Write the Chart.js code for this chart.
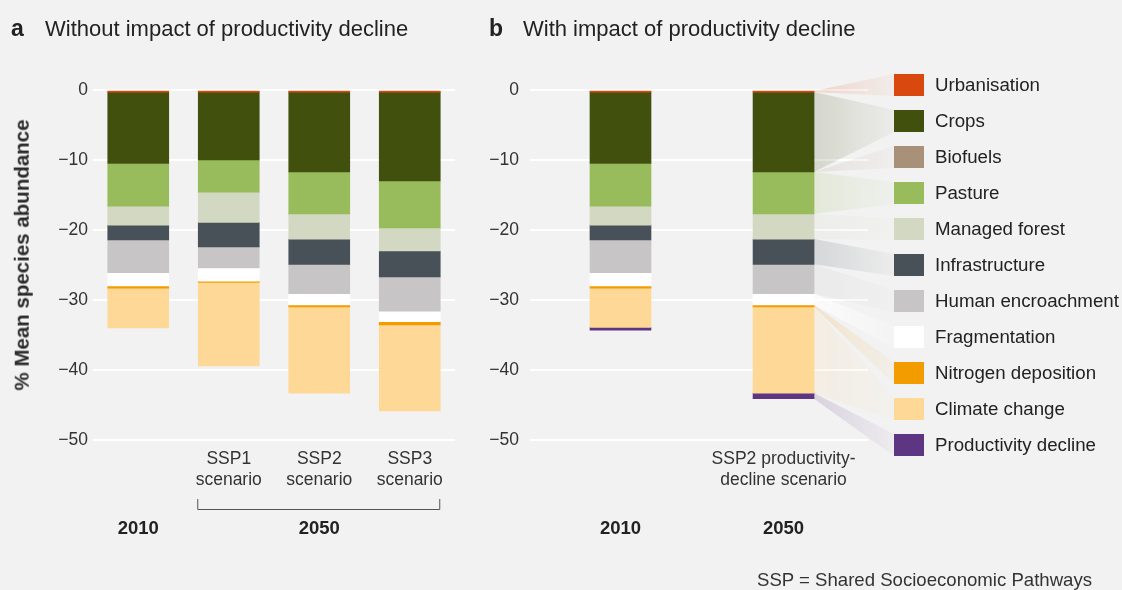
<!DOCTYPE html>
<html><head><meta charset="utf-8">
<script src="https://cdn.jsdelivr.net/npm/chart.js@4"></script>
<style>
html,body{margin:0;padding:0;background:#f2f2f2;}
#wrap{position:relative;width:1122px;height:590px;overflow:hidden;font-family:"Liberation Sans",Arial,sans-serif;color:#222;}
.abs{position:absolute;white-space:nowrap;line-height:1;}
.sw{position:absolute;width:30px;height:22px;}
.lab{position:absolute;font-size:18.7px;color:#222;white-space:nowrap;line-height:22px;}
#ytitle{position:absolute;left:22px;top:255px;transform:translate(-50%,-50%) rotate(-90deg);font-size:20.5px;font-weight:bold;color:#2a2a2a;white-space:nowrap;line-height:1;}
</style></head><body><div id="wrap">
<canvas id="ca" width="470" height="590" style="position:absolute;left:0;top:0"></canvas>
<canvas id="cb" width="652" height="590" style="position:absolute;left:470px;top:0"></canvas>
<div class="abs" style="left:11px;top:17px;font-size:23px;font-weight:bold">a</div>
<div class="abs" style="left:45px;top:18px;font-size:22px">Without impact of productivity decline</div>
<div class="abs" style="left:489px;top:17px;font-size:23px;font-weight:bold">b</div>
<div class="abs" style="left:523px;top:18px;font-size:22px">With impact of productivity decline</div>
<div class="abs" style="left:757px;top:571px;font-size:18.6px;color:#333">SSP = Shared Socioeconomic Pathways</div>
<div id="ytitle">% Mean species abundance</div>
<div id="legend"></div>
</div>
<script>
// ---- data ----
const categoriesA = ['2010', 'SSP1', 'SSP2', 'SSP3'];
const tickLabelsA = ['', 'SSP1\nscenario', 'SSP2\nscenario', 'SSP3\nscenario'];
const yearLabelsA = ['2010', '2050'];
const categoriesB = ['2010', '2050'];
const tickLabelsB = ['', 'SSP2 productivity-\ndecline scenario'];
const yearLabelsB = ['2010', '2050'];
const yTicks = [0, -10, -20, -30, -40, -50];

const drivers = ['Urbanisation', 'Crops', 'Biofuels', 'Pasture', 'Managed forest', 'Infrastructure',
  'Human encroachment', 'Fragmentation', 'Nitrogen deposition', 'Climate change', 'Productivity decline'];
const driverColors = ['#d9480f', '#42500e', '#a89079', '#98bb5c', '#d3d8c2', '#485058',
  '#c7c5c6', '#ffffff', '#f29c00', '#fdd896', '#5e3583'];

// panel a: 2010, SSP1, SSP2, SSP3
const urbanisationA = [-0.3, -0.3, -0.3, -0.3];
const cropsA        = [-10.2, -9.7, -11.4, -12.7];
const biofuelsA     = [0, 0, 0, 0];
const pastureA      = [-6.1, -4.6, -6.0, -6.7];
const forestA       = [-2.7, -4.3, -3.6, -3.3];
const infraA        = [-2.1, -3.5, -3.6, -3.7];
const encroachA     = [-4.7, -3.0, -4.2, -4.9];
const fragmentA     = [-1.9, -1.9, -1.6, -1.5];
const nitrogenA     = [-0.3, -0.2, -0.3, -0.45];
const climateA      = [-5.7, -11.9, -12.3, -12.3];
const productivityA = [0, 0, 0, 0];

// panel b: 2010, 2050 (SSP2 productivity-decline scenario)
const urbanisationB = [-0.3, -0.3];
const cropsB        = [-10.2, -11.4];
const biofuelsB     = [0, 0];
const pastureB      = [-6.1, -6.0];
const forestB       = [-2.7, -3.6];
const infraB        = [-2.1, -3.6];
const encroachB     = [-4.7, -4.2];
const fragmentB     = [-1.9, -1.6];
const nitrogenB     = [-0.3, -0.3];
const climateB      = [-5.6, -12.3];
const productivityB = [-0.4, -0.8];

const seriesA = [urbanisationA, cropsA, biofuelsA, pastureA, forestA, infraA, encroachA, fragmentA, nitrogenA, climateA, productivityA];
const seriesB = [urbanisationB, cropsB, biofuelsB, pastureB, forestB, infraB, encroachB, fragmentB, nitrogenB, climateB, productivityB];

// ---- layout constants ----
const FONT = '"Liberation Sans", Arial, sans-serif';
Chart.defaults.font.family = FONT;
Chart.defaults.color = '#333';
const LEG_X = 894, LEG_Y0 = 74, LEG_STEP = 36, LEG_W = 30, LEG_H = 22;

// legend (HTML)
const leg = document.getElementById('legend');
drivers.forEach((d, i) => {
  const s = document.createElement('div');
  s.className = 'sw';
  s.style.left = LEG_X + 'px'; s.style.top = (LEG_Y0 + i * LEG_STEP) + 'px';
  s.style.background = driverColors[i];
  leg.appendChild(s);
  const l = document.createElement('div');
  l.className = 'lab';
  l.style.left = (LEG_X + 41) + 'px'; l.style.top = (LEG_Y0 + i * LEG_STEP) + 'px';
  l.textContent = d;
  leg.appendChild(l);
});

const minusFmt = v => v < 0 ? '\u2212' + Math.abs(v) : String(v);

function yScale(isA) {
  return {
    stacked: true, min: -50, max: 0,
    afterBuildTicks: s => { s.ticks = yTicks.map(v => ({ value: v })); },
    ticks: { callback: minusFmt, font: { size: 17.5 }, color: '#333', padding: isA ? 5 : 11 },
    grid: { color: '#ffffff', lineWidth: 2, drawTicks: false },
    border: { display: false },
    afterFit: s => { s.width = isA ? 93 : 60; }
  };
}

function bottomLabels(tickLabels, yearLabels, bracket) {
  return {
    id: 'bottomLabels',
    afterDraw(chart) {
      const ctx = chart.ctx, area = chart.chartArea;
      const els = chart.getDatasetMeta(0).data;
      ctx.save();
      ctx.fillStyle = '#333';
      ctx.textAlign = 'center'; ctx.textBaseline = 'middle';
      ctx.font = '17.5px ' + FONT;
      els.forEach((el, i) => {
        const lines = tickLabels[i].split('\n');
        lines.forEach((ln, k) => { if (ln) ctx.fillText(ln, el.x, area.bottom + 19 + k * 21); });
      });
      ctx.font = 'bold 18.5px ' + FONT;
      ctx.fillStyle = '#222';
      ctx.fillText(yearLabels[0], els[0].x, 529);
      const last = els[els.length - 1];
      if (bracket) {
        const first = els[1];
        const l = first.x - first.width / 2 - 0.5, r = last.x + last.width / 2 - 0.5;
        ctx.fillText(yearLabels[1], (first.x + last.x) / 2, 529);
        ctx.strokeStyle = '#555'; ctx.lineWidth = 1;
        ctx.beginPath();
        ctx.moveTo(l, 499); ctx.lineTo(l, 509.5); ctx.lineTo(r, 509.5); ctx.lineTo(r, 499);
        ctx.stroke();
      } else {
        ctx.fillText(yearLabels[1], last.x, 529);
      }
      ctx.restore();
    }
  };
}

function hexToRgba(h, a) {
  const n = parseInt(h.slice(1), 16);
  return `rgba(${(n >> 16) & 255},${(n >> 8) & 255},${n & 255},${a})`;
}

const fanPlugin = {
  id: 'fans',
  beforeDatasetsDraw(chart) {
    const ctx = chart.ctx;
    const canvasLeft = 470;
    const lx = LEG_X - canvasLeft;
    ctx.save();
    drivers.forEach((d, i) => {
      const el = chart.getDatasetMeta(i).data[1];
      const rx = el.x + el.width / 2;
      const top = Math.min(el.y, el.base), bot = Math.max(el.y, el.base);
      const ly0 = LEG_Y0 + i * LEG_STEP, ly1 = ly0 + LEG_H;
      const white = driverColors[i] === '#ffffff';
      const g = ctx.createLinearGradient(rx, 0, lx, 0);
      g.addColorStop(0, hexToRgba(driverColors[i], white ? 0.7 : 0.17));
      g.addColorStop(1, hexToRgba(driverColors[i], white ? 0.15 : 0.03));
      ctx.fillStyle = g;
      ctx.beginPath();
      ctx.moveTo(rx, top); ctx.lineTo(lx, ly0); ctx.lineTo(lx, ly1); ctx.lineTo(rx, bot);
      ctx.closePath(); ctx.fill();
    });
    ctx.restore();
  }
};

function rawValue(c) { const r = c.raw; return (r && typeof r === 'object') ? r.y : r; }

function datasets(series, xs) {
  return series.map((vals, i) => ({
    label: drivers[i],
    data: xs ? vals.map((v, k) => ({ x: xs[k], y: v })) : vals,
    backgroundColor: driverColors[i],
    borderWidth: 0,
    inflateAmount: c => rawValue(c) === 0 ? 0 : 0.33,
    barThickness: 61
  }));
}

new Chart(document.getElementById('ca'), {
  type: 'bar',
  data: { labels: categoriesA, datasets: datasets(seriesA) },
  options: {
    responsive: false, animation: false, devicePixelRatio: 1,
    layout: { padding: { top: 90, right: 15, bottom: 0, left: 0 } },
    plugins: { legend: { display: false }, tooltip: { enabled: false } },
    scales: {
      x: { stacked: true, ticks: { display: false }, grid: { display: false }, border: { display: false },
           afterFit: s => { s.height = 150; } },
      y: yScale(true)
    }
  },
  plugins: [bottomLabels(tickLabelsA, yearLabelsA, true)]
});

// panel b uses a linear index axis so the bars sit at their own positions
const xIndexB = categoriesB.map((c, i) => i);
new Chart(document.getElementById('cb'), {
  type: 'bar',
  data: { datasets: datasets(seriesB, xIndexB) },
  options: {
    responsive: false, animation: false, devicePixelRatio: 1,
    layout: { padding: { top: 90, right: 254, bottom: 0, left: 0 } },
    plugins: { legend: { display: false }, tooltip: { enabled: false } },
    scales: {
      x: { type: 'linear', stacked: true, offset: false, min: -0.555, max: 1.518, ticks: { display: false },
           grid: { display: false }, border: { display: false }, afterFit: s => { s.height = 150; } },
      y: yScale(false)
    }
  },
  plugins: [fanPlugin, bottomLabels(tickLabelsB, yearLabelsB, false)]
});
</script>
</body></html>
